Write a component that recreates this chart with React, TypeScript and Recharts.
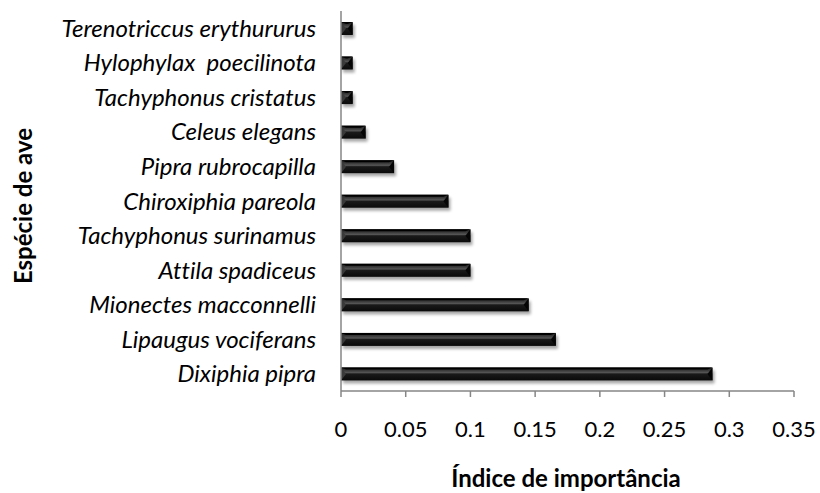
import React from "react";
import { BarChart, Bar, XAxis, YAxis } from "recharts";

const species = [
  "Terenotriccus erythururus",
  "Hylophylax  poecilinota",
  "Tachyphonus cristatus",
  "Celeus elegans",
  "Pipra rubrocapilla",
  "Chiroxiphia pareola",
  "Tachyphonus surinamus",
  "Attila spadiceus",
  "Mionectes macconnelli",
  "Lipaugus vociferans",
  "Dixiphia pipra",
];

const importance = [0.009, 0.009, 0.009, 0.019, 0.041, 0.083, 0.1, 0.1, 0.145, 0.166, 0.287];

const xTicks = [0, 0.05, 0.1, 0.15, 0.2, 0.25, 0.3, 0.35];

const data = species.map((name, i) => ({ name, value: importance[i] }));

const FONT = "Lato, 'Open Sans', sans-serif";
const AXIS = "#868686";

function BevelBar(props: any) {
  const { x, y, width, height } = props;
  if (!width || width <= 0) return null;
  const b = Math.min(5, width / 2, height / 2);
  return (
    <g>
      <rect x={x + 2} y={y + 3} width={width} height={height} fill="#000" opacity={0.35} filter="url(#barShadow)" />
      <rect x={x} y={y} width={width} height={height} fill="url(#barFace)" />
      <polygon points={`${x},${y} ${x + b},${y + height / 2} ${x},${y + height}`} fill="#3a3a3a" />
      <polygon
        points={`${x + width},${y} ${x + width - b},${y + height / 2} ${x + width},${y + height}`}
        fill="#050505"
      />
      <polygon points={`${x},${y} ${x + width},${y} ${x + width - b},${y + 2} ${x + b},${y + 2}`} fill="#000" />
    </g>
  );
}

function XTick(props: any) {
  const { x, y, payload } = props;
  return (
    <text x={x} y={y + 38} textAnchor="middle" fontFamily={FONT} fontSize={22} fill="#000">
      {payload.value}
    </text>
  );
}

function YTick(props: any) {
  const { x, y, payload } = props;
  return (
    <text
      x={x}
      y={y + 8.5}
      textAnchor="end"
      fontFamily={FONT}
      fontSize={24}
      fontStyle="italic"
      fill="#000"
      style={{ whiteSpace: "pre", fontVariantLigatures: "none" }}
    >
      {payload.value}
    </text>
  );
}

export default function App() {
  return (
    <div style={{ position: "absolute", left: 0, top: 0, width: 820, height: 493, background: "#fff" }}>
      <BarChart
        width={820}
        height={493}
        data={data}
        layout="vertical"
        margin={{ top: 11, right: 26, bottom: 62, left: 0 }}
        barSize={13}
      >
        <defs>
          <linearGradient id="barFace" x1="0" y1="0" x2="0" y2="1">
            <stop offset="0%" stopColor="#1c1c1c" />
            <stop offset="25%" stopColor="#3c3c3c" />
            <stop offset="40%" stopColor="#555" />
            <stop offset="50%" stopColor="#1a1a1a" />
            <stop offset="100%" stopColor="#0a0a0a" />
          </linearGradient>
          <filter id="barShadow" x="-20%" y="-50%" width="140%" height="200%">
            <feGaussianBlur stdDeviation="1.5" />
          </filter>
        </defs>
        <XAxis
          type="number"
          domain={[0, 0.35]}
          ticks={xTicks}
          height={40}
          axisLine={{ stroke: AXIS, strokeWidth: 1.5 }}
          tickLine={{ stroke: AXIS, strokeWidth: 1.5 }}
          tickSize={6}
          tick={<XTick />}
          interval={0}
        />
        <YAxis
          type="category"
          dataKey="name"
          width={341}
          axisLine={{ stroke: AXIS, strokeWidth: 1.5 }}
          tickLine={false}
          tickMargin={19}
          tick={<YTick />}
          interval={0}
        />
        <Bar dataKey="value" shape={<BevelBar />} isAnimationActive={false} />
        <text x={566} y={487} textAnchor="middle" fontFamily={FONT} fontSize={24} fontWeight="bold" fill="#000">
          Índice de importância
        </text>
        <text
          x={32}
          y={206}
          textAnchor="middle"
          fontFamily={FONT}
          fontSize={24}
          fontWeight="bold"
          fill="#000"
          transform="rotate(-90 32 206)"
        >
          Espécie de ave
        </text>
      </BarChart>
    </div>
  );
}
